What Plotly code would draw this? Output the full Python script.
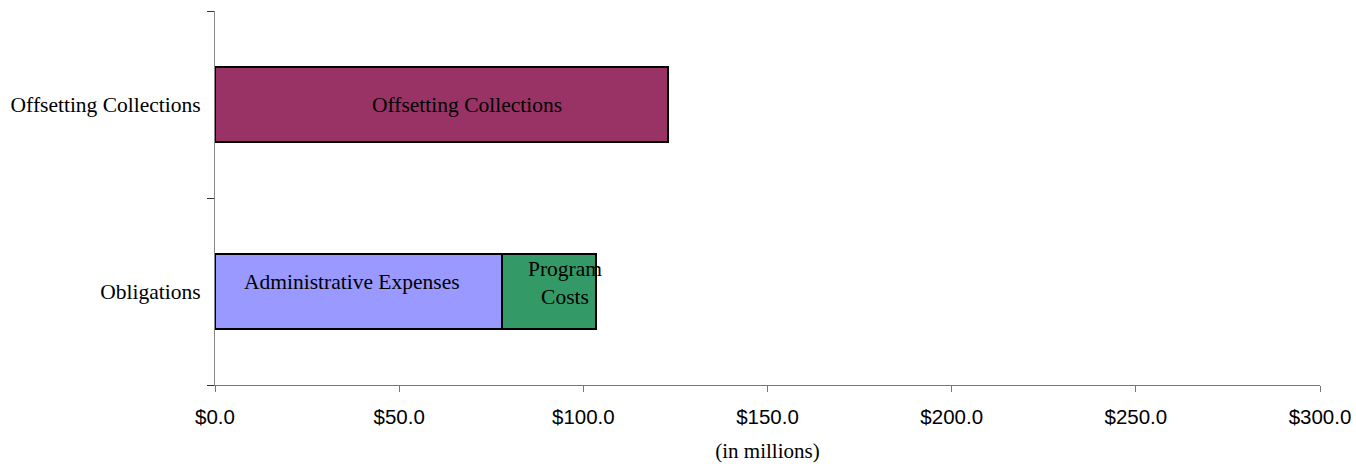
import plotly.graph_objects as go

categories = ["Obligations", "Offsetting Collections"]
admin_expenses = [78.0, 0]
program_costs = [25.5, 0]
offsetting_collections = [0, 123.0]
x_ticks = [0, 50, 100, 150, 200, 250, 300]
x_tick_labels = ["$0.0", "$50.0", "$100.0", "$150.0", "$200.0", "$250.0", "$300.0"]

serif = "Liberation Serif, Times New Roman, serif"
sans = "Liberation Sans, Arial, sans-serif"

fig = go.Figure()
fig.add_trace(go.Bar(y=categories, x=admin_expenses, orientation="h", name="Administrative Expenses",
                     marker=dict(color="#9999FF", line=dict(color="black", width=2))))
fig.add_trace(go.Bar(y=categories, x=program_costs, orientation="h", name="Program Costs",
                     marker=dict(color="#339966", line=dict(color="black", width=2))))
fig.add_trace(go.Bar(y=categories, x=offsetting_collections, orientation="h", name="Offsetting Collections",
                     marker=dict(color="#993366", line=dict(color="black", width=2))))

font = dict(family=serif, size=21.5, color="black")
fig.add_annotation(x=offsetting_collections[1] / 2, y=categories[1], text="Offsetting Collections",
                   showarrow=False, xshift=25, font=font)
fig.add_annotation(x=admin_expenses[0] / 2, y=categories[0], text="Administrative Expenses",
                   showarrow=False, xshift=-7, yshift=10, font=font)
fig.add_annotation(x=admin_expenses[0] + program_costs[0] / 2, y=categories[0], text="Program<br>Costs",
                   showarrow=False, xshift=16, yshift=9, font=font, align="center")

fig.update_layout(
    width=1356, height=464,
    margin=dict(l=215, r=36, t=11, b=79, autoexpand=False),
    barmode="stack", bargap=0.6,
    showlegend=False,
    plot_bgcolor="white", paper_bgcolor="white",
    xaxis=dict(range=[0, 300], tickvals=x_ticks, ticktext=x_tick_labels, automargin=False,
               showgrid=False, zeroline=False, showline=True, linecolor="#777", linewidth=1,
               ticks="outside", ticklen=6, tickcolor="#777", ticklabelstandoff=7,
               tickfont=dict(family=sans, size=20.5, color="black"),
               title=dict(text="(in millions)", font=dict(family=serif, size=21, color="black"), standoff=16)),
    yaxis=dict(range=[-0.5, 1.5], showgrid=False, zeroline=False, showline=True, linecolor="#888", linewidth=1,
               ticks="outside", tickson="boundaries", ticklen=7, tickcolor="#333", automargin=False,
               ticklabelstandoff=9,
               tickfont=dict(family=serif, size=21.5, color="black")),
)

fig.write_html("out.html")
